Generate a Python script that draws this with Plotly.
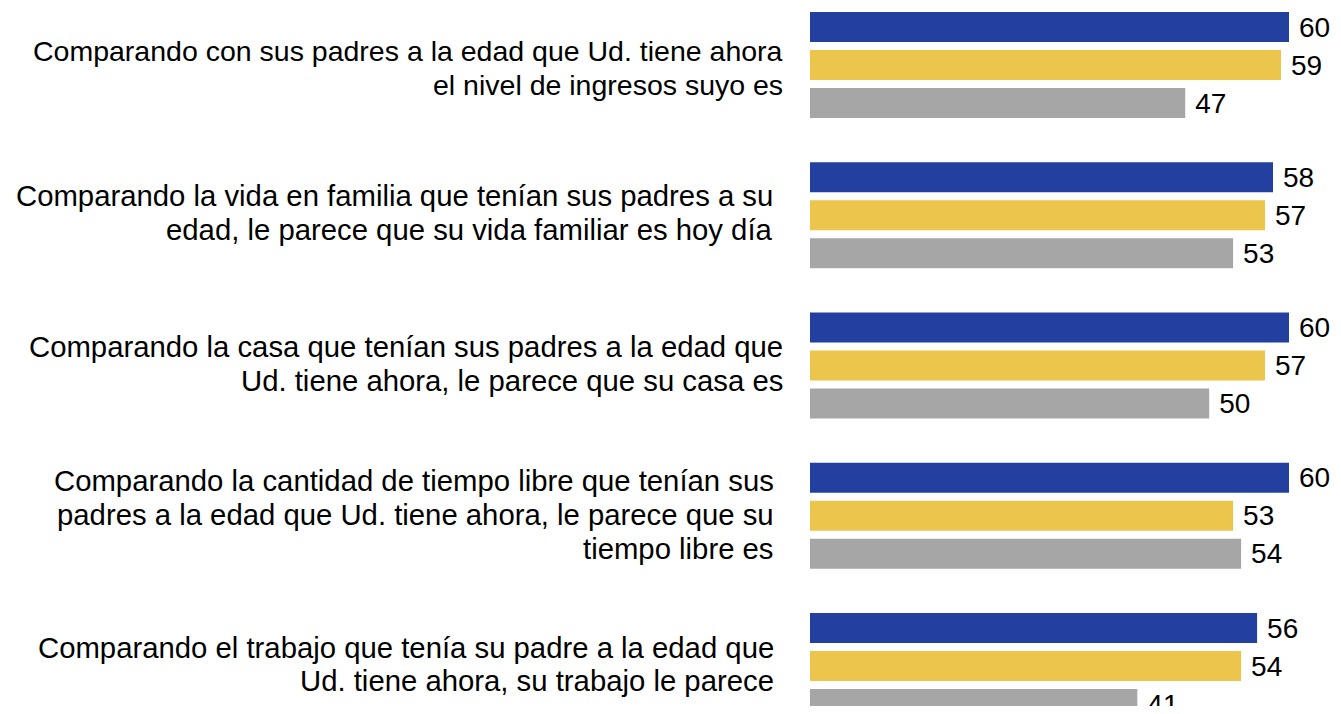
import plotly.graph_objects as go

categories = [
    "Comparando con sus padres a la edad que Ud. tiene ahora<br>el nivel de ingresos suyo es",
    "Comparando la vida en familia que tenían sus padres a su<br>edad, le parece que su vida familiar es hoy día",
    "Comparando la casa que tenían sus padres a la edad que<br>Ud. tiene ahora, le parece que su casa es",
    "Comparando la cantidad de tiempo libre que tenían sus<br>padres a la edad que Ud. tiene ahora, le parece que su<br>tiempo libre es",
    "Comparando el trabajo que tenía su padre a la edad que<br>Ud. tiene ahora, su trabajo le parece",
]
series_names = ["Serie 1", "Serie 2", "Serie 3"]
values_blue = [60, 58, 60, 60, 56]
values_yellow = [59, 57, 57, 53, 54]
values_gray = [47, 53, 50, 54, 41]

colors = ["#2340A0", "#ECC64C", "#A6A6A6"]

# page body has an 8px margin; layout positions below are in figure pixels
OFF = 8
label_right_px = [785 - OFF, 775 - OFF, 785 - OFF, 776 - OFF, 776 - OFF]
label_font_px = [28.5, 29.3, 29.3, 29.3, 29.3]
label_nudge_down_px = [7, 1, 2, 3, 2]

W, H = 1341 - OFF, 714 - 2 * OFF
FONT = "Liberation Sans, Arial, sans-serif"

fig = go.Figure()
idx = list(range(len(categories)))
for name, vals, col in zip(series_names, [values_blue, values_yellow, values_gray], colors):
    fig.add_trace(go.Bar(
        y=idx, x=vals, orientation="h", name=name,
        marker=dict(color=col, line=dict(width=0)),
        text=vals, texttemplate="\u2005%{x}", textposition="outside",
        textfont=dict(family=FONT, size=28, color="#000000"),
        constraintext="none", cliponaxis=False,
    ))

px_per_unit = (1289 - 810) / 60.0
x0_px = 810 - OFF
pitch = 150.25
center0 = 65 - OFF

annotations = []
line_h = 33.8
for i, (lab, rpx, fs, nd) in enumerate(zip(categories, label_right_px, label_font_px, label_nudge_down_px)):
    lines = lab.split("<br>")
    n = len(lines)
    for k, ln in enumerate(lines):
        annotations.append(dict(
            text=ln, xref="paper", yref="y", x=rpx / W, y=i,
            xanchor="right", yanchor="middle", showarrow=False,
            yshift=-(k - (n - 1) / 2) * line_h + 4 - nd,
            font=dict(family=FONT, size=fs, color="#000000"),
        ))

fig.update_layout(
    width=W, height=H,
    margin=dict(l=0, r=0, t=0, b=0),
    barmode="group", bargap=0.2413, bargroupgap=0.21,
    plot_bgcolor="white", paper_bgcolor="white",
    showlegend=False,
    xaxis=dict(range=[-x0_px / px_per_unit, (W - x0_px) / px_per_unit],
               visible=False, fixedrange=True),
    yaxis=dict(range=[(H - center0) / pitch, -center0 / pitch],
               visible=False, fixedrange=True),
    annotations=annotations,
)

fig.write_html("out.html")
